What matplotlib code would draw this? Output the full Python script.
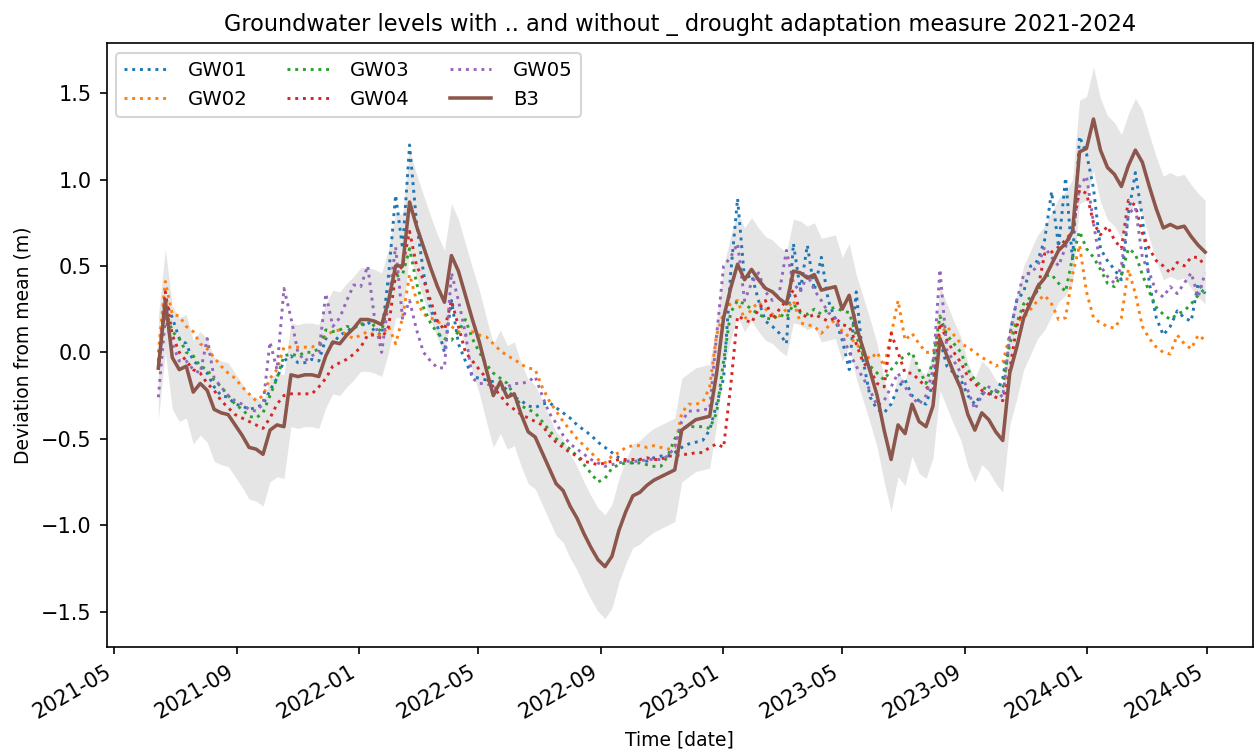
import numpy as np
import pandas as pd
import matplotlib
matplotlib.use("Agg")
import matplotlib.pyplot as plt
import matplotlib.dates as mdates

plt.rcParams["font.size"] = 9

# weekly sampling dates
dates = pd.date_range("2021-06-14", periods=151, freq="7D")

B3 = [
    -0.09, 0.30, -0.03, -0.10, -0.08, -0.23, -0.18, -0.22, -0.33, -0.35,
    -0.36, -0.42, -0.48, -0.55, -0.56, -0.59, -0.45, -0.42, -0.43, -0.13,
    -0.14, -0.13, -0.13, -0.14, -0.02, 0.06, 0.05, 0.10, 0.14, 0.19,
    0.19, 0.18, 0.16, 0.30, 0.50, 0.50, 0.87, 0.73, 0.61, 0.49,
    0.38, 0.29, 0.56, 0.47, 0.33, 0.19, 0.06, -0.10, -0.25, -0.17,
    -0.26, -0.24, -0.36, -0.46, -0.49, -0.58, -0.67, -0.76, -0.80, -0.89,
    -0.96, -1.05, -1.13, -1.20, -1.24, -1.18, -1.03, -0.92, -0.83, -0.81,
    -0.77, -0.74, -0.72, -0.70, -0.68, -0.45, -0.42, -0.39, -0.38, -0.37,
    -0.12, 0.20, 0.37, 0.51, 0.42, 0.48, 0.42, 0.37, 0.35, 0.31,
    0.28, 0.47, 0.46, 0.43, 0.45, 0.36, 0.37, 0.38, 0.25, 0.33,
    0.15, 0.02, -0.11, -0.25, -0.45, -0.62, -0.42, -0.47, -0.30, -0.40,
    -0.43, -0.31, 0.08, -0.02, -0.12, -0.21, -0.36, -0.45, -0.35, -0.39,
    -0.46, -0.51, -0.12, 0.03, 0.20, 0.29, 0.38, 0.43, 0.51, 0.59,
    0.63, 0.70, 1.16, 1.18, 1.35, 1.17, 1.07, 1.03, 0.96, 1.08,
    1.17, 1.10, 0.96, 0.83, 0.72, 0.74, 0.72, 0.73, 0.67, 0.62,
    0.58,
]
B3_band = 0.3  # half width of the grey band around B3

GW01 = [
    -0.10, 0.30, 0.20, 0.08, 0.05, -0.05, -0.08, -0.12, -0.20, -0.25,
    -0.26, -0.30, -0.31, -0.33, -0.32, -0.30, -0.22, -0.15, -0.05, -0.02,
    -0.06, -0.06, -0.04, -0.05, 0.08, 0.05, 0.10, 0.12, 0.15, 0.15,
    0.18, 0.12, 0.10, 0.45, 0.91, 0.60, 1.20, 0.75, 0.46, 0.25,
    0.15, 0.00, 0.30, 0.05, -0.05, -0.14, -0.15, -0.16, -0.17, -0.18,
    -0.22, -0.26, -0.28, -0.31, -0.32, -0.30, -0.29, -0.32, -0.35, -0.38,
    -0.42, -0.45, -0.48, -0.52, -0.55, -0.58, -0.61, -0.63, -0.64, -0.62,
    -0.63, -0.61, -0.60, -0.60, -0.58, -0.55, -0.53, -0.52, -0.51, -0.45,
    -0.30, -0.15, 0.45, 0.89, 0.42, 0.45, 0.30, 0.18, 0.15, 0.11,
    0.05, 0.63, 0.36, 0.62, 0.36, 0.55, 0.30, 0.19, 0.07, -0.10,
    0.35, -0.05, -0.26, -0.33, -0.35, -0.30, -0.20, -0.16, -0.25, -0.28,
    -0.30, -0.18, 0.07, -0.08, -0.12, -0.16, -0.25, -0.30, -0.24, -0.24,
    -0.24, -0.15, 0.10, 0.30, 0.35, 0.50, 0.53, 0.65, 0.93, 0.61,
    1.01, 0.53, 1.25, 1.15, 0.95, 0.60, 0.53, 0.48, 0.42, 0.80,
    1.04, 0.78, 0.40, 0.20, 0.10, 0.15, 0.24, 0.20, 0.18, 0.40,
    0.34,
]

GW02 = [
    0.00, 0.41, 0.22, 0.21, 0.15, 0.12, 0.05, 0.02, -0.03, -0.08,
    -0.12, -0.15, -0.20, -0.24, -0.28, -0.25, -0.15, -0.10, 0.03, 0.03,
    0.03, 0.03, 0.03, 0.05, 0.10, 0.12, 0.13, 0.10, 0.08, 0.10,
    0.12, 0.10, 0.10, 0.15, 0.05, 0.20, 0.45, 0.30, 0.22, 0.20,
    0.18, 0.15, 0.15, 0.12, 0.10, 0.12, 0.10, 0.09, 0.05, 0.01,
    -0.02, -0.04, -0.07, -0.09, -0.10, -0.20, -0.28, -0.34, -0.40, -0.45,
    -0.50, -0.54, -0.58, -0.62, -0.64, -0.60, -0.58, -0.55, -0.54, -0.54,
    -0.55, -0.54, -0.55, -0.56, -0.55, -0.35, -0.30, -0.30, -0.29, -0.20,
    0.10, 0.23, 0.28, 0.30, 0.19, 0.25, 0.29, 0.25, 0.22, 0.21,
    0.25, 0.30, 0.17, 0.16, 0.15, 0.11, 0.15, 0.19, 0.12, 0.09,
    0.05, 0.00, -0.04, 0.00, -0.08, 0.10, 0.30, 0.07, 0.11, 0.05,
    0.00, 0.00, 0.10, 0.15, 0.10, 0.05, 0.03, 0.00, -0.03, -0.05,
    -0.08, -0.06, 0.10, 0.18, 0.20, 0.25, 0.30, 0.33, 0.28, 0.19,
    0.20, 0.45, 0.62, 0.35, 0.20, 0.17, 0.15, 0.14, 0.20, 0.48,
    0.34, 0.15, 0.08, 0.03, 0.00, -0.01, 0.10, 0.05, 0.02, 0.10,
    0.07,
]

GW03 = [
    -0.05, 0.25, 0.12, 0.08, 0.00, -0.02, -0.08, -0.10, -0.16, -0.20,
    -0.25, -0.30, -0.33, -0.37, -0.38, -0.35, -0.25, -0.15, -0.02, -0.01,
    -0.02, 0.00, 0.00, 0.02, 0.13, 0.12, 0.13, 0.15, 0.14, 0.16,
    0.19, 0.15, 0.12, 0.30, 0.44, 0.45, 0.60, 0.40, 0.26, 0.17,
    0.11, 0.08, 0.07, 0.12, 0.19, 0.08, 0.00, -0.07, -0.12, -0.15,
    -0.18, -0.25, -0.31, -0.33, -0.35, -0.40, -0.45, -0.50, -0.53, -0.56,
    -0.60, -0.65, -0.70, -0.75, -0.73, -0.67, -0.65, -0.64, -0.64, -0.64,
    -0.65, -0.66, -0.66, -0.60, -0.50, -0.44, -0.43, -0.43, -0.43, -0.44,
    -0.35, -0.05, 0.23, 0.30, 0.28, 0.25, 0.22, 0.20, 0.19, 0.22,
    0.20, 0.28, 0.23, 0.22, 0.25, 0.22, 0.25, 0.26, 0.24, 0.23,
    0.10, -0.02, -0.08, -0.12, -0.16, -0.10, -0.05, -0.02, 0.00, -0.10,
    -0.18, -0.05, 0.21, 0.10, 0.05, 0.00, -0.10, -0.16, -0.20, -0.22,
    -0.24, -0.20, 0.05, 0.17, 0.28, 0.32, 0.35, 0.44, 0.45, 0.40,
    0.35, 0.55, 0.70, 0.60, 0.55, 0.48, 0.40, 0.38, 0.45, 0.60,
    0.57, 0.45, 0.35, 0.26, 0.22, 0.19, 0.22, 0.24, 0.28, 0.33,
    0.37,
]

GW04 = [
    -0.10, 0.35, 0.10, 0.00, -0.05, -0.10, -0.12, -0.18, -0.22, -0.28,
    -0.32, -0.36, -0.38, -0.40, -0.42, -0.44, -0.38, -0.30, -0.25, -0.24,
    -0.24, -0.24, -0.24, -0.20, -0.15, -0.08, -0.06, -0.04, -0.01, 0.03,
    0.10, 0.10, 0.08, 0.15, 0.45, 0.50, 0.70, 0.50, 0.42, 0.30,
    0.18, 0.13, 0.30, 0.15, 0.00, -0.05, -0.10, -0.15, -0.20, -0.25,
    -0.30, -0.33, -0.36, -0.38, -0.40, -0.42, -0.48, -0.52, -0.55, -0.58,
    -0.60, -0.63, -0.64, -0.65, -0.64, -0.63, -0.62, -0.62, -0.62, -0.62,
    -0.61, -0.62, -0.62, -0.60, -0.60, -0.59, -0.59, -0.58, -0.58, -0.55,
    -0.53, -0.55, -0.20, 0.21, 0.19, 0.17, 0.25, 0.30, 0.19, 0.25,
    0.30, 0.36, 0.23, 0.20, 0.22, 0.20, 0.18, 0.20, 0.16, 0.15,
    0.05, -0.06, -0.10, -0.18, -0.20, 0.11, 0.00, -0.12, -0.12, -0.16,
    -0.20, -0.22, 0.17, 0.07, 0.00, -0.06, -0.14, -0.18, -0.22, -0.24,
    -0.26, -0.28, -0.10, 0.15, 0.25, 0.30, 0.36, 0.57, 0.58, 0.61,
    0.65, 0.70, 0.94, 0.92, 0.75, 0.68, 0.73, 0.65, 0.60, 0.88,
    0.85, 0.69, 0.60, 0.53, 0.50, 0.46, 0.52, 0.50, 0.55, 0.55,
    0.50,
]

GW05 = [
    -0.26, 0.20, 0.05, -0.05, -0.05, -0.10, -0.12, 0.08, -0.15, -0.20,
    -0.25, -0.28, -0.30, -0.33, -0.34, -0.30, 0.06, -0.10, 0.37, 0.20,
    0.00, -0.05, -0.02, 0.00, 0.34, 0.15, 0.20, 0.30, 0.39, 0.38,
    0.50, 0.19, 0.00, 0.30, 0.61, 0.19, 0.30, 0.13, 0.00, -0.05,
    -0.09, -0.09, 0.46, 0.30, 0.11, -0.15, -0.18, -0.18, -0.20, -0.22,
    -0.20, -0.18, -0.18, -0.17, -0.14, -0.25, -0.35, -0.41, -0.48, -0.53,
    -0.56, -0.59, -0.62, -0.64, -0.66, -0.65, -0.64, -0.63, -0.63, -0.63,
    -0.62, -0.62, -0.62, -0.60, -0.55, -0.40, -0.34, -0.34, -0.33, -0.33,
    0.10, 0.50, 0.55, 0.63, 0.30, 0.40, 0.46, 0.35, 0.30, 0.35,
    0.59, 0.40, 0.35, 0.45, 0.36, 0.30, 0.23, 0.20, 0.10, 0.00,
    -0.08, -0.15, -0.22, -0.31, -0.28, -0.20, -0.12, -0.20, -0.26, -0.30,
    -0.25, -0.10, 0.48, 0.01, -0.05, -0.12, -0.22, -0.33, -0.25, -0.20,
    -0.22, -0.26, 0.10, 0.30, 0.45, 0.46, 0.50, 0.61, 0.55, 0.50,
    0.61, 0.70, 0.96, 1.02, 0.75, 0.50, 0.44, 0.40, 0.50, 0.80,
    0.84, 0.55, 0.46, 0.35, 0.32, 0.38, 0.34, 0.40, 0.46, 0.32,
    0.46,
]

wells = {"GW01": GW01, "GW02": GW02, "GW03": GW03, "GW04": GW04, "GW05": GW05}
colors = ["tab:blue", "tab:orange", "tab:green", "tab:red", "tab:purple"]

fig = plt.figure(figsize=(1258 / 150, 755 / 150), dpi=150)
ax = fig.add_axes([106.5 / 1258, 1 - 647 / 755, (1253 - 106.5) / 1258, (647 - 43) / 755])

b3 = np.array(B3)
ax.fill_between(dates, b3 - B3_band, b3 + B3_band, color="gray", alpha=0.2, lw=0)

for (name, vals), c in zip(wells.items(), colors):
    ax.plot(dates, vals, ls=":", lw=1.4, color=c, label=name)
ax.plot(dates, b3, color="tab:brown", lw=1.7, label="B3")

ax.set_xlim(pd.Timestamp("2021-04-23"), pd.Timestamp("2024-06-16"))
ax.set_ylim(-1.705, 1.79)
ax.xaxis.set_major_locator(mdates.MonthLocator(bymonth=[1, 5, 9]))
ax.xaxis.set_major_formatter(mdates.DateFormatter("%Y-%m"))
ax.tick_params(labelsize=10)
plt.setp(ax.get_xticklabels(), rotation=30, ha="right")

ax.set_title("Groundwater levels with .. and without _ drought adaptation measure 2021-2024")
ax.set_xlabel("Time [date]")
ax.set_ylabel("Deviation from mean (m)")
ax.legend(loc="upper left", ncol=3, fontsize=9.5, handlelength=2.1,
          handletextpad=1.1, columnspacing=2.0)

fig.savefig("out.png", dpi=150)
